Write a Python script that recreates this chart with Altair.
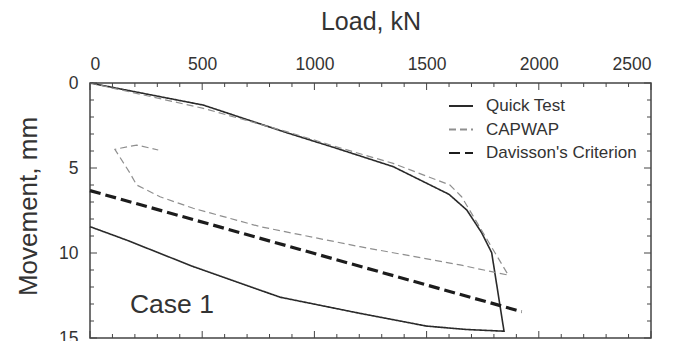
import altair as alt
import pandas as pd

# ---- data ----
series_names = ["Quick Test", "CAPWAP", "Davisson's Criterion"]

qt_load = [0, 505, 876, 1084, 1351, 1600, 1679, 1745, 1790, 1845, 1679, 1500, 1203, 847, 460, 163, 0]
qt_move = [0, 1.3, 2.92, 3.78, 4.92, 6.55, 7.47, 8.8, 9.98, 14.6, 14.5, 14.3, 13.55, 12.6, 10.8, 9.24, 8.45]

cw_load = [0, 505, 876, 1084, 1351, 1604, 1656, 1753, 1864, 1790, 1649, 1203, 758, 460, 312, 208, 178, 111, 208, 304]
cw_move = [0, 1.49, 2.86, 3.7, 4.73, 6.0, 6.69, 8.84, 11.3, 11.1, 10.7, 9.63, 8.45, 7.37, 6.69, 6.0, 5.3, 3.9, 3.65, 3.94]

dv_load = [0, 1924]
dv_move = [6.33, 13.45]

x_labels = [0, 500, 1000, 1500, 2000, 2500]
y_labels = [0, 5, 10, 15]
x_minor = [v for v in range(0, 2501, 100) if v % 500 != 0]
y_minor = [v for v in range(0, 16) if v % 5 != 0]

annot_text = ["Case 1"]
annot_load = [178]
annot_move = [13.05]

# ---- build table ----
rows = []
for name, xs, ys in zip(series_names, [qt_load, cw_load, dv_load], [qt_move, cw_move, dv_move]):
    for i, (x, y) in enumerate(zip(xs, ys)):
        rows.append({"series": name, "load": x, "move": y, "order": i})
df = pd.DataFrame(rows)

FONT = "Liberation Sans"
xsc = alt.Scale(domain=[0, 2500], nice=False)
ysc = alt.Scale(domain=[0, 15], reverse=True, nice=False)

x_axis = alt.Axis(
    orient="top", values=x_labels, format="d", title="Load, kN", labelFontSize=17.5,
    labelPadding=10, titleFontSize=25, titlePadding=21, titleFontWeight="normal",
    labelColor="#333", titleColor="#333", labelFont=FONT, titleFont=FONT)
y_axis = alt.Axis(
    values=y_labels, format="d", title="Movement, mm", labelFontSize=17.5, labelPadding=12,
    titleFontSize=26, titlePadding=17, titleFontWeight="normal", titleY=123,
    labelColor="#333", titleColor="#333", labelFont=FONT, titleFont=FONT)

legend = alt.Legend(
    title=None, orient="none", legendX=358, legendY=10,
    symbolType="stroke", symbolSize=576, symbolStrokeWidth=2, labelFontSize=17, labelFont=FONT,
    labelColor="#333", rowPadding=2.5, labelOffset=12,
)

color_enc = alt.Color("series:N", sort=series_names,
                      scale=alt.Scale(domain=series_names, range=["#2a2a2a", "#8f8f8f", "#1c1c1c"]),
                      legend=legend)
dash_enc = alt.StrokeDash("series:N", sort=series_names,
                          scale=alt.Scale(domain=series_names, range=[[1, 0], [7, 4], [11, 5]]),
                          legend=legend)

line_widths = {"Quick Test": 1.6, "CAPWAP": 1.2, "Davisson's Criterion": 3.2}
line_layers = []
for name in series_names:
    line_layers.append(
        alt.Chart(df).transform_filter(alt.datum.series == name)
        .mark_line(strokeCap="butt", strokeWidth=line_widths[name])
        .encode(
            x=alt.X("load:Q", scale=xsc, axis=x_axis),
            y=alt.Y("move:Q", scale=ysc, axis=y_axis),
            color=color_enc,
            strokeDash=dash_enc,
            order="order:Q",
        )
    )

text = alt.Chart(pd.DataFrame({"t": annot_text, "load": annot_load, "move": annot_move})).mark_text(
    align="left", baseline="middle", fontSize=26.5, font=FONT, color="#333"
).encode(x=alt.X("load:Q", scale=xsc, axis=x_axis), y=alt.Y("move:Q", scale=ysc, axis=y_axis), text="t:N")

def xticks(vals, length):
    d = pd.DataFrame({"load": vals})
    base = alt.Chart(d).mark_rule(color="#444", strokeWidth=1)
    top = base.encode(x=alt.X("load:Q", scale=xsc, axis=x_axis), y=alt.value(0), y2=alt.value(length))
    bot = base.encode(x=alt.X("load:Q", scale=xsc, axis=x_axis), y=alt.value(255), y2=alt.value(255 - length))
    return [top, bot]

def yticks(vals, length):
    d = pd.DataFrame({"move": vals})
    base = alt.Chart(d).mark_rule(color="#444", strokeWidth=1)
    left = base.encode(y=alt.Y("move:Q", scale=ysc, axis=y_axis), x=alt.value(0), x2=alt.value(length))
    right = base.encode(y=alt.Y("move:Q", scale=ysc, axis=y_axis), x=alt.value(561), x2=alt.value(561 - length))
    return [left, right]

tick_layers = xticks(x_labels, 7) + xticks(x_minor, 4) + yticks(y_labels, 7) + yticks(y_minor, 4)

chart = alt.layer(*line_layers, text, *tick_layers).properties(
    width=561, height=255,
    autosize=alt.AutoSizeParams(type="none"),
    padding={"left": 82, "top": 75, "right": 17, "bottom": 3},
).configure_view(stroke="#444", strokeWidth=1.5).configure_axis(
    grid=False, domain=False, ticks=False
)

chart.save("out.html", embed_options={"renderer": "svg", "actions": False})
